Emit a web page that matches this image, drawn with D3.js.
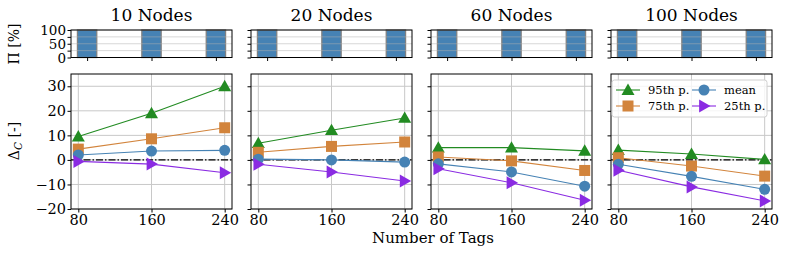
<!DOCTYPE html>
<html>
<head>
<meta charset="utf-8">
<script src="https://cdn.jsdelivr.net/npm/d3@7"></script>
<style>
  body { margin: 0; background: #fff; }
</style>
</head>
<body>
<svg id="chart" width="789" height="256"></svg>
<script>
// panels and x categories
var nodes = ['10 Nodes', '20 Nodes', '60 Nodes', '100 Nodes']
var tags = [80, 160, 240]

// Pi [%] bars, one row per panel
var piValues = [
    [100, 100, 100],
    [100, 100, 100],
    [100, 100, 100],
    [100, 100, 100]
]

// Delta_C per panel
var p95 = [
    [9.5, 19, 30],
    [6.8, 12.1, 17.1],
    [5.0, 5.0, 3.7],
    [4.0, 2.4, 0.2]
]
var p75 = [
    [4.4, 8.6, 13.1],
    [3.1, 5.5, 7.3],
    [1.2, -0.4, -4.3],
    [0.9, -2.5, -6.6]
]
var meanV = [
    [2.0, 3.6, 3.9],
    [0.3, 0.0, -0.9],
    [-1.6, -4.9, -10.7],
    [-1.8, -6.7, -12.0]
]
var p25 = [
    [-0.6, -1.7, -5.2],
    [-1.8, -4.9, -8.6],
    [-3.6, -9.3, -16.4],
    [-4.2, -11.0, -16.7]
]

var yTicks = [-20, -10, 0, 10, 20, 30]
var piTicks = [0, 25, 50, 75, 100]
var piLabels = [0, 50, 100]

var series = [
    { name: '95th p.', vals: p95, color: '#228b22', shape: 'tri' },
    { name: '75th p.', vals: p75, color: '#d2843c', shape: 'sq' },
    { name: 'mean', vals: meanV, color: '#4682b4', shape: 'circ' },
    { name: '25th p.', vals: p25, color: '#8a2be2', shape: 'right' }
]

var svg = d3.select('#chart')
var serif = '"DejaVu Serif", serif'
var panelW = 161, panelStep = 180, left0 = 71
var topY0 = 30, topY1 = 57.5
var botY0 = 74, botY1 = 209

// top panel: bars sit on category index 0..2
var xTop = d3.scaleLinear().domain([-0.25, 2.25]).range([0, panelW])
var x = d3.scaleLinear().domain([72, 248]).range([0, panelW])
var yTop = d3.scaleLinear().domain([0, 100]).range([topY1, topY0])
var y = d3.scaleLinear().domain([-20, 35]).range([botY1, botY0])

function marker(g, shape, cx, cy, color) {
    var s
    if (shape === 'tri') {
        s = 6.5
        g.append('path').attr('d', 'M' + cx + ',' + (cy - s) + 'L' + (cx + s) + ',' + (cy + s * 0.75) + 'L' + (cx - s) + ',' + (cy + s * 0.75) + 'Z')
            .attr('fill', color)
    } else if (shape === 'sq') {
        s = 5.5
        g.append('rect').attr('x', cx - s).attr('y', cy - s).attr('width', 2 * s).attr('height', 2 * s)
            .attr('fill', color)
    } else if (shape === 'circ') {
        g.append('circle').attr('cx', cx).attr('cy', cy).attr('r', 5.5).attr('fill', color)
    } else {
        s = 6.5
        g.append('path').attr('d', 'M' + (cx + s) + ',' + cy + 'L' + (cx - s * 0.75) + ',' + (cy - s) + 'L' + (cx - s * 0.75) + ',' + (cy + s) + 'Z')
            .attr('fill', color)
    }
}

nodes.forEach(function(title, p) {
    var g = svg.append('g').attr('transform', 'translate(' + (left0 + p * panelStep) + ',0)')

    // title
    g.append('text').attr('x', panelW / 2).attr('y', 21).attr('text-anchor', 'middle')
        .style('font-size', '17px').text(title)

    // ---- top panel (Pi) ----
    var bw = xTop(0.3) - xTop(0)
    g.selectAll('.bar').data(piValues[p]).enter().append('rect')
        .attr('x', function(d, i) { return xTop(i) - bw / 2 })
        .attr('width', bw)
        .attr('y', function(d) { return yTop(d) })
        .attr('height', function(d) { return yTop(0) - yTop(d) })
        .attr('fill', '#4682b4')
        .attr('stroke', '#808080').attr('stroke-width', 1.3)

    // grid drawn over the bars
    g.selectAll('.gridTopY').data(piTicks).enter().append('line')
        .attr('x1', 0).attr('x2', panelW)
        .attr('y1', function(d) { return yTop(d) }).attr('y2', function(d) { return yTop(d) })
        .attr('stroke', '#b0b0b0').attr('stroke-opacity', 0.5).attr('stroke-width', 1)

    var axTopY = d3.axisLeft(yTop).tickValues(piTicks).tickSize(3.5)
        .tickFormat(function(d) { return (p === 0 && piLabels.indexOf(d) >= 0) ? d : '' })
    var gyt = g.append('g').call(axTopY)
    gyt.select('.domain').remove()
    gyt.selectAll('text').style('font-size', '13.5px').attr('dy', '0.35em').attr('x', -5)

    var gxt = g.append('g').attr('transform', 'translate(0,' + topY1 + ')')
        .call(d3.axisBottom(xTop).tickValues([0, 1, 2]).tickSize(3.5).tickFormat(''))
    gxt.select('.domain').remove()

    g.append('rect').attr('x', 0).attr('y', topY0).attr('width', panelW).attr('height', topY1 - topY0)
        .attr('fill', 'none').attr('stroke', '#000').attr('stroke-width', 1)

    // ---- bottom panel (Delta_C) ----
    g.selectAll('.gridY').data(yTicks).enter().append('line')
        .attr('x1', 0).attr('x2', panelW)
        .attr('y1', function(d) { return y(d) }).attr('y2', function(d) { return y(d) })
        .attr('stroke', '#c8c8c8').attr('stroke-width', 1)
    g.selectAll('.gridX').data(tags).enter().append('line')
        .attr('x1', function(d) { return x(d) }).attr('x2', function(d) { return x(d) })
        .attr('y1', botY0).attr('y2', botY1)
        .attr('stroke', '#c8c8c8').attr('stroke-width', 1)

    // zero reference line
    g.append('line').attr('x1', 0).attr('x2', panelW).attr('y1', y(0)).attr('y2', y(0))
        .attr('stroke', '#000').attr('stroke-width', 1.3).attr('stroke-dasharray', '7,2,1.5,2')

    var line = d3.line().x(function(d, i) { return x(tags[i]) }).y(function(d) { return y(d) })
    series.forEach(function(s) {
        var vals = s.vals[p]
        g.append('path').datum(vals).attr('d', line)
            .attr('fill', 'none').attr('stroke', s.color).attr('stroke-width', 1.1)
        vals.forEach(function(v, i) {
            marker(g, s.shape, x(tags[i]), y(v), s.color)
        })
    })

    var axY = d3.axisLeft(y).tickValues(yTicks).tickSize(3.5)
        .tickFormat(function(d) { return p === 0 ? (d < 0 ? '\u2212' + Math.abs(d) : d) : '' })
    var gy = g.append('g').call(axY)
    gy.select('.domain').remove()
    gy.selectAll('text').style('font-size', '14.5px').attr('x', -5)

    var gx = g.append('g').attr('transform', 'translate(0,' + botY1 + ')')
        .call(d3.axisBottom(x).tickValues(tags).tickSize(3.5))
    gx.select('.domain').remove()
    gx.selectAll('text').style('font-size', '14.5px').attr('y', 6)

    g.append('rect').attr('x', 0).attr('y', botY0).attr('width', panelW).attr('height', botY1 - botY0)
        .attr('fill', 'none').attr('stroke', '#000').attr('stroke-width', 1)

    // legend in last panel
    if (p === nodes.length - 1) {
        var lg = g.append('g').attr('transform', 'translate(1,' + (botY0 + 6) + ')')
        lg.append('rect').attr('x', 0).attr('y', 0).attr('width', 155).attr('height', 37).attr('rx', 2.5)
            .attr('fill', '#fff').attr('fill-opacity', 0.8).attr('stroke', '#d0d0d0')
        series.forEach(function(s, k) {
            var col = Math.floor(k / 2), row = k % 2
            var lx = 4 + col * 76, ly = 10 + row * 16
            lg.append('line').attr('x1', lx).attr('x2', lx + 24).attr('y1', ly).attr('y2', ly)
                .attr('stroke', s.color).attr('stroke-width', 1.1)
            marker(lg, s.shape, lx + 12, ly, s.color)
            lg.append('text').attr('x', lx + 32).attr('y', ly).attr('dy', '0.35em')
                .style('font-size', '11.5px').text(s.name)
        })
    }
})

// axis labels
svg.append('text').attr('transform', 'translate(19,44) rotate(-90)').attr('text-anchor', 'middle')
    .style('font-size', '14px').text('\u03a0 [%]')
var dl = svg.append('text').attr('transform', 'translate(19,141) rotate(-90)').attr('text-anchor', 'middle')
    .style('font-size', '14px')
dl.append('tspan').text('\u0394')
dl.append('tspan').attr('dy', 3).style('font-size', '10.5px').style('font-style', 'italic').text('C')
dl.append('tspan').attr('dy', -3).text(' [-]')

svg.append('text').attr('x', 433).attr('y', 243).attr('text-anchor', 'middle')
    .style('font-size', '15px').text('Number of Tags')

// serif everywhere, like the matplotlib figure
svg.selectAll('g').attr('font-family', null)
svg.selectAll('text').style('font-family', serif).attr('fill', '#000')
</script>
</body>
</html>
